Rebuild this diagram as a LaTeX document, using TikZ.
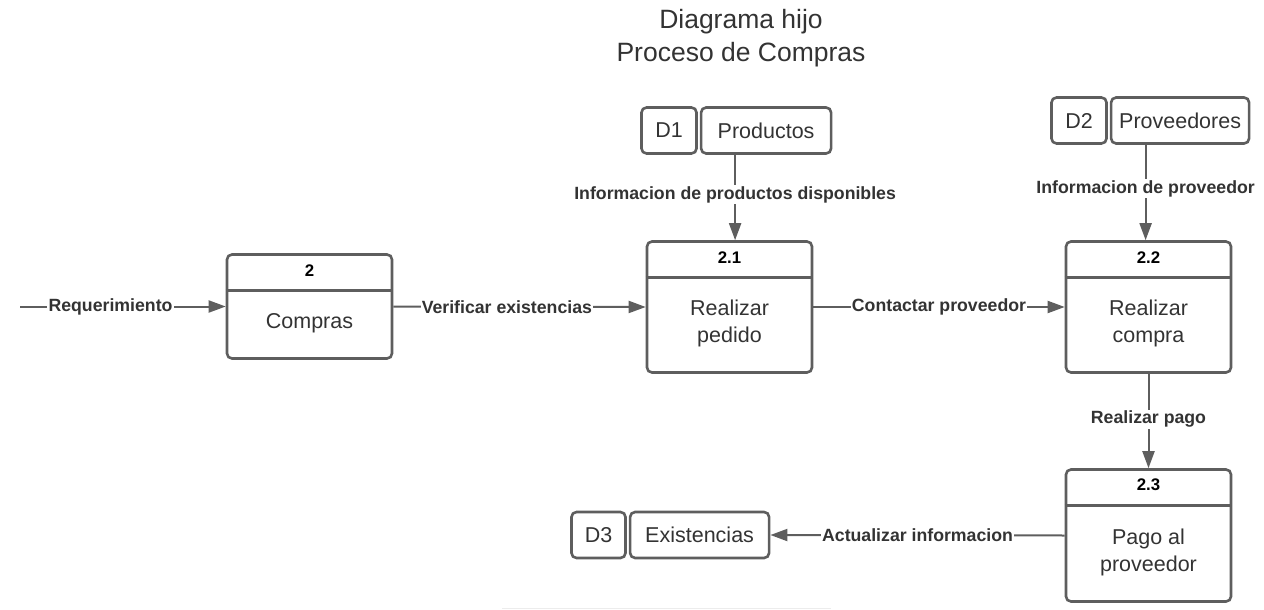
\documentclass[tikz,border=0pt]{standalone}
\usepackage{fontspec}
\setmainfont{Liberation Sans}
\usetikzlibrary{positioning,arrows.meta}
\definecolor{linea}{HTML}{5E5E5E}
\definecolor{letra}{HTML}{333333}

\begin{document}
\begin{tikzpicture}[x=1pt, y=-1pt,
    proceso/.style={draw=linea, line width=2.6pt, rounded corners=5pt, minimum width=165pt, inner sep=0pt},
    almacen/.style={draw=linea, line width=2.6pt, rounded corners=5pt, minimum height=46pt, inner sep=0pt,
                    text=letra, font=\fontsize{21.5}{26}\selectfont},
    numero/.style={font=\fontsize{16.8}{18}\selectfont\bfseries, text=black},
    nombre/.style={align=center, text=letra, font=\fontsize{21.5}{27}\selectfont},
    flujo/.style={draw=linea, line width=2pt, -{Triangle[length=17pt,width=12pt]}},
    etiqueta/.style={fill=white, inner sep=1.2pt, text=letra, font=\fontsize{17.7}{20}\selectfont\bfseries}]

\useasboundingbox (0,0) rectangle (1264,610);

\node[text=letra, align=center, font=\fontsize{26.5}{33}\selectfont] (titulo) at (741,38) {Diagrama hijo\\Proceso de Compras};

\node[proceso, minimum height=104pt] (P2) at (309.5,306.5) {};
\node[proceso, minimum height=131pt] (P21) at (729.5,307) {};
\node[proceso, minimum height=131pt] (P22) at (1148.5,307) {};
\node[proceso, minimum height=132pt] (P23) at (1148.5,535.5) {};

\foreach \p/\n in {P2/2, P21/2.1, P22/2.2, P23/2.3} {
    \node[numero] (\p num) at ([yshift=-17]\p.north) {\n};
    \draw[linea, line width=2.6pt] ([yshift=-37]\p.north west) -- ([yshift=-37]\p.north east);
}

\node[nombre] (P2txt) at ([yshift=-16.5]P2.center) {Compras};
\node[nombre] (P21txt) at ([yshift=-16.5]P21.center) {Realizar\\pedido};
\node[nombre] (P22txt) at ([yshift=-16.5]P22.center) {Realizar\\compra};
\node[nombre] (P23txt) at ([yshift=-17]P23.center) {Pago al\\proveedor};

\node[almacen, minimum width=55pt] (D1) at (669,130.5) {D1};
\node[almacen, minimum width=130pt] (Prod) [right=2pt of D1] {Productos};
\node[almacen, minimum width=55pt] (D2) at (1079,120.5) {D2};
\node[almacen, minimum width=138pt] (Prov) [right=2pt of D2] {Proveedores};
\node[almacen, minimum width=54pt] (D3) at (598.5,535) {D3};
\node[almacen, minimum width=139pt] (Exis) [right=2pt of D3] {Existencias};

\coordinate (entrada) at (20,306.5);

\draw[flujo] (entrada) -- (P2.west) node[etiqueta, pos=0.44] {Requerimiento};
\draw[flujo] (P2.east) -- (P21.west) node[etiqueta, pos=0.45] {Verificar existencias};
\draw[flujo] (P21.east) -- (P22.west) node[etiqueta, pos=0.5] {Contactar proveedor};
\draw[flujo] ([xshift=-31]Prod.south) -- ([xshift=-31]Prod.south |- P21.north)
    node[etiqueta, pos=0.47] {Informacion de productos disponibles};
\draw[flujo] ([xshift=-34.5]Prov.south) -- ([xshift=-34.5]Prov.south |- P22.north)
    node[etiqueta, pos=0.46] {Informacion de proveedor};
\draw[flujo] (P22.south) -- (P23.north) node[etiqueta, pos=0.48] {Realizar pago};
\draw[flujo] (P23.west) -- (Exis.east) node[etiqueta, pos=0.5] {Actualizar informacion};

\draw[gray!15, line width=1.2pt] (502,608.5) -- (831,608.5);
\end{tikzpicture}
\end{document}
